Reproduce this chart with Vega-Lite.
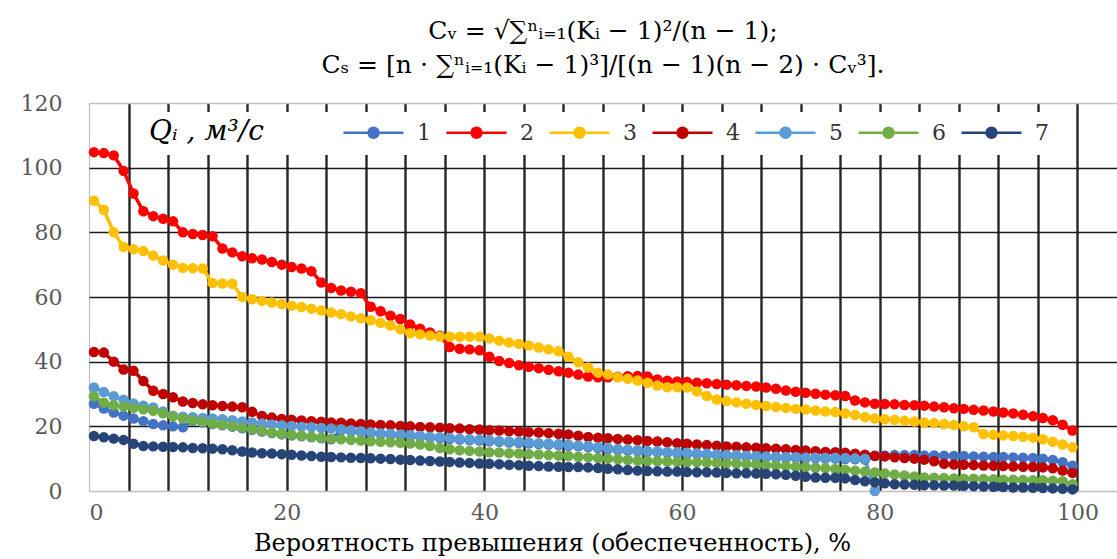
{
"$schema": "https://vega.github.io/schema/vega-lite/v6.json",
"width": 1028, "height": 388,
"autosize": {"type": "none"},
"padding": {"left": 89, "top": 103, "right": 0, "bottom": 68},
"background": "white",
"config": {"view": {"stroke": null}},
"title": {"text": ["Cᵥ = √∑ⁿᵢ₌₁(Kᵢ − 1)²/(n − 1);", "Cₛ = [n ⋅ ∑ⁿᵢ₌₁(Kᵢ − 1)³]/[(n − 1)(n − 2) ⋅ Cᵥ³]."], "font": "DejaVu Serif", "fontSize": 25, "fontWeight": "normal", "color": "#000", "anchor": "middle", "frame": "group", "lineHeight": 34, "offset": 14},
"data": {"values": [
{"s":"1","x":0.5,"y":27},{"s":"1","x":1.5,"y":25.5},{"s":"1","x":2.5,"y":24.3},{"s":"1","x":3.5,"y":23.3},{"s":"1","x":4.5,"y":22.4},{"s":"1","x":5.5,"y":21.6},{"s":"1","x":6.5,"y":20.7},{"s":"1","x":7.5,"y":20.3},{"s":"1","x":8.5,"y":20},{"s":"1","x":9.5,"y":19.7},
{"s":"1","x":10.5,"y":21.7},{"s":"1","x":11.5,"y":21.2},{"s":"1","x":12.5,"y":20.7},{"s":"1","x":13.5,"y":20.3},{"s":"1","x":14.5,"y":19.9},{"s":"1","x":15.5,"y":19.4},{"s":"1","x":16.5,"y":18.9},{"s":"1","x":17.5,"y":18.4},{"s":"1","x":18.5,"y":17.9},{"s":"1","x":19.5,"y":17.5},
{"s":"1","x":20.5,"y":17.2},{"s":"1","x":21.5,"y":16.9},{"s":"1","x":22.5,"y":16.6},{"s":"1","x":23.5,"y":16.3},{"s":"1","x":24.5,"y":16.0},{"s":"1","x":25.5,"y":18.8},{"s":"1","x":26.5,"y":18.5},{"s":"1","x":27.5,"y":18.2},{"s":"1","x":28.5,"y":17.9},{"s":"1","x":29.5,"y":17.6},
{"s":"1","x":30.5,"y":17.4},{"s":"1","x":31.5,"y":17.2},{"s":"1","x":32.5,"y":17},{"s":"1","x":33.5,"y":16.8},{"s":"1","x":34.5,"y":16.5},{"s":"1","x":35.5,"y":16.3},{"s":"1","x":36.5,"y":16.1},{"s":"1","x":37.5,"y":15.9},{"s":"1","x":38.5,"y":15.7},{"s":"1","x":39.5,"y":15.6},
{"s":"1","x":40.5,"y":15.4},{"s":"1","x":41.5,"y":15.2},{"s":"1","x":42.5,"y":15},{"s":"1","x":43.5,"y":14.9},{"s":"1","x":44.5,"y":14.7},{"s":"1","x":45.5,"y":14.5},{"s":"1","x":46.5,"y":14.4},{"s":"1","x":47.5,"y":14.2},{"s":"1","x":48.5,"y":14},{"s":"1","x":49.5,"y":13.8},
{"s":"1","x":50.5,"y":13.6},{"s":"1","x":51.5,"y":13.3},{"s":"1","x":52.5,"y":13},{"s":"1","x":53.5,"y":12.7},{"s":"1","x":54.5,"y":12.5},{"s":"1","x":55.5,"y":12.3},{"s":"1","x":56.5,"y":12.1},{"s":"1","x":57.5,"y":12},{"s":"1","x":58.5,"y":11.8},{"s":"1","x":59.5,"y":11.7},
{"s":"1","x":60.5,"y":11.5},{"s":"1","x":61.5,"y":11.4},{"s":"1","x":62.5,"y":11.2},{"s":"1","x":63.5,"y":11.1},{"s":"1","x":64.5,"y":10.9},{"s":"1","x":65.5,"y":10.8},{"s":"1","x":66.5,"y":10.6},{"s":"1","x":67.5,"y":10.5},{"s":"1","x":68.5,"y":10.4},{"s":"1","x":69.5,"y":10.3},
{"s":"1","x":70.5,"y":10.2},{"s":"1","x":71.5,"y":10.2},{"s":"1","x":72.5,"y":10.1},{"s":"1","x":73.5,"y":10.1},{"s":"1","x":74.5,"y":10},{"s":"1","x":75.5,"y":10},{"s":"1","x":76.5,"y":9.9},{"s":"1","x":77.5,"y":9.8},{"s":"1","x":78.5,"y":9.7},{"s":"1","x":79.5,"y":10.8},
{"s":"1","x":80.5,"y":11},{"s":"1","x":81.5,"y":11.1},{"s":"1","x":82.5,"y":11.1},{"s":"1","x":83.5,"y":11.1},{"s":"1","x":84.5,"y":11},{"s":"1","x":85.5,"y":11},{"s":"1","x":86.5,"y":10.9},{"s":"1","x":87.5,"y":10.8},{"s":"1","x":88.5,"y":10.8},{"s":"1","x":89.5,"y":10.7},
{"s":"1","x":90.5,"y":10.6},{"s":"1","x":91.5,"y":10.5},{"s":"1","x":92.5,"y":10.5},{"s":"1","x":93.5,"y":10.4},{"s":"1","x":94.5,"y":10.3},{"s":"1","x":95.5,"y":10.2},{"s":"1","x":96.5,"y":10},{"s":"1","x":97.5,"y":9.6},{"s":"1","x":98.5,"y":8.9},{"s":"1","x":99.5,"y":7.8},

{"s":"2","x":0.5,"y":104.8},{"s":"2","x":1.5,"y":104.5},{"s":"2","x":2.5,"y":103.8},{"s":"2","x":3.5,"y":99},{"s":"2","x":4.5,"y":92},{"s":"2","x":5.5,"y":86.5},{"s":"2","x":6.5,"y":85},{"s":"2","x":7.5,"y":84.2},{"s":"2","x":8.5,"y":83.4},{"s":"2","x":9.5,"y":80},
{"s":"2","x":10.5,"y":79.5},{"s":"2","x":11.5,"y":79.2},{"s":"2","x":12.5,"y":78.8},{"s":"2","x":13.5,"y":75},{"s":"2","x":14.5,"y":73.8},{"s":"2","x":15.5,"y":72.6},{"s":"2","x":16.5,"y":72},{"s":"2","x":17.5,"y":71.6},{"s":"2","x":18.5,"y":70.8},{"s":"2","x":19.5,"y":70},
{"s":"2","x":20.5,"y":69.3},{"s":"2","x":21.5,"y":68.8},{"s":"2","x":22.5,"y":68},{"s":"2","x":23.5,"y":64.5},{"s":"2","x":24.5,"y":62.8},{"s":"2","x":25.5,"y":62},{"s":"2","x":26.5,"y":61.6},{"s":"2","x":27.5,"y":61.2},{"s":"2","x":28.5,"y":57},{"s":"2","x":29.5,"y":55.6},
{"s":"2","x":30.5,"y":54.2},{"s":"2","x":31.5,"y":53.2},{"s":"2","x":32.5,"y":51.5},{"s":"2","x":33.5,"y":50.2},{"s":"2","x":34.5,"y":49},{"s":"2","x":35.5,"y":48},{"s":"2","x":36.5,"y":44.5},{"s":"2","x":37.5,"y":44},{"s":"2","x":38.5,"y":43.8},{"s":"2","x":39.5,"y":43.5},
{"s":"2","x":40.5,"y":41.5},{"s":"2","x":41.5,"y":40.2},{"s":"2","x":42.5,"y":39.6},{"s":"2","x":43.5,"y":38.9},{"s":"2","x":44.5,"y":38.4},{"s":"2","x":45.5,"y":38},{"s":"2","x":46.5,"y":37.5},{"s":"2","x":47.5,"y":37},{"s":"2","x":48.5,"y":36.6},{"s":"2","x":49.5,"y":36},
{"s":"2","x":50.5,"y":35.4},{"s":"2","x":51.5,"y":35.2},{"s":"2","x":52.5,"y":35.2},{"s":"2","x":53.5,"y":35.3},{"s":"2","x":54.5,"y":35.5},{"s":"2","x":55.5,"y":35.6},{"s":"2","x":56.5,"y":35.4},{"s":"2","x":57.5,"y":34.5},{"s":"2","x":58.5,"y":34.1},{"s":"2","x":59.5,"y":33.9},
{"s":"2","x":60.5,"y":33.7},{"s":"2","x":61.5,"y":33.5},{"s":"2","x":62.5,"y":33.3},{"s":"2","x":63.5,"y":33.1},{"s":"2","x":64.5,"y":32.9},{"s":"2","x":65.5,"y":32.7},{"s":"2","x":66.5,"y":32.5},{"s":"2","x":67.5,"y":32.3},{"s":"2","x":68.5,"y":32},{"s":"2","x":69.5,"y":31.6},
{"s":"2","x":70.5,"y":31.1},{"s":"2","x":71.5,"y":30.7},{"s":"2","x":72.5,"y":30.4},{"s":"2","x":73.5,"y":30.1},{"s":"2","x":74.5,"y":29.8},{"s":"2","x":75.5,"y":29.6},{"s":"2","x":76.5,"y":29.4},{"s":"2","x":77.5,"y":28},{"s":"2","x":78.5,"y":27.4},{"s":"2","x":79.5,"y":27},
{"s":"2","x":80.5,"y":26.9},{"s":"2","x":81.5,"y":26.8},{"s":"2","x":82.5,"y":26.6},{"s":"2","x":83.5,"y":26.5},{"s":"2","x":84.5,"y":26.4},{"s":"2","x":85.5,"y":26.1},{"s":"2","x":86.5,"y":25.9},{"s":"2","x":87.5,"y":25.6},{"s":"2","x":88.5,"y":25.4},{"s":"2","x":89.5,"y":25.1},
{"s":"2","x":90.5,"y":24.9},{"s":"2","x":91.5,"y":24.6},{"s":"2","x":92.5,"y":24.3},{"s":"2","x":93.5,"y":24},{"s":"2","x":94.5,"y":23.6},{"s":"2","x":95.5,"y":23.1},{"s":"2","x":96.5,"y":22.6},{"s":"2","x":97.5,"y":21.9},{"s":"2","x":98.5,"y":20.5},{"s":"2","x":99.5,"y":18.7},

{"s":"3","x":0.5,"y":89.8},{"s":"3","x":1.5,"y":87},{"s":"3","x":2.5,"y":80},{"s":"3","x":3.5,"y":75.5},{"s":"3","x":4.5,"y":74.8},{"s":"3","x":5.5,"y":74.2},{"s":"3","x":6.5,"y":72.8},{"s":"3","x":7.5,"y":71.3},{"s":"3","x":8.5,"y":70},{"s":"3","x":9.5,"y":69},
{"s":"3","x":10.5,"y":68.9},{"s":"3","x":11.5,"y":68.8},{"s":"3","x":12.5,"y":64.3},{"s":"3","x":13.5,"y":64.2},{"s":"3","x":14.5,"y":64.1},{"s":"3","x":15.5,"y":60},{"s":"3","x":16.5,"y":59.3},{"s":"3","x":17.5,"y":58.8},{"s":"3","x":18.5,"y":58.3},{"s":"3","x":19.5,"y":57.8},
{"s":"3","x":20.5,"y":57.3},{"s":"3","x":21.5,"y":56.9},{"s":"3","x":22.5,"y":56.4},{"s":"3","x":23.5,"y":55.8},{"s":"3","x":24.5,"y":55.2},{"s":"3","x":25.5,"y":54.7},{"s":"3","x":26.5,"y":54},{"s":"3","x":27.5,"y":53.4},{"s":"3","x":28.5,"y":52.8},{"s":"3","x":29.5,"y":52},
{"s":"3","x":30.5,"y":51.2},{"s":"3","x":31.5,"y":50},{"s":"3","x":32.5,"y":48.8},{"s":"3","x":33.5,"y":48.5},{"s":"3","x":34.5,"y":48.1},{"s":"3","x":35.5,"y":47.8},{"s":"3","x":36.5,"y":47.7},{"s":"3","x":37.5,"y":47.7},{"s":"3","x":38.5,"y":47.7},{"s":"3","x":39.5,"y":47.7},
{"s":"3","x":40.5,"y":47.2},{"s":"3","x":41.5,"y":46.5},{"s":"3","x":42.5,"y":45.9},{"s":"3","x":43.5,"y":45.5},{"s":"3","x":44.5,"y":45},{"s":"3","x":45.5,"y":44.4},{"s":"3","x":46.5,"y":43.8},{"s":"3","x":47.5,"y":43.2},{"s":"3","x":48.5,"y":41.5},{"s":"3","x":49.5,"y":39.8},
{"s":"3","x":50.5,"y":38.2},{"s":"3","x":51.5,"y":36.6},{"s":"3","x":52.5,"y":36},{"s":"3","x":53.5,"y":35.2},{"s":"3","x":54.5,"y":34.7},{"s":"3","x":55.5,"y":34.2},{"s":"3","x":56.5,"y":33.5},{"s":"3","x":57.5,"y":32.6},{"s":"3","x":58.5,"y":32.1},{"s":"3","x":59.5,"y":32.1},
{"s":"3","x":60.5,"y":32},{"s":"3","x":61.5,"y":30.8},{"s":"3","x":62.5,"y":29.4},{"s":"3","x":63.5,"y":28.3},{"s":"3","x":64.5,"y":27.8},{"s":"3","x":65.5,"y":27.4},{"s":"3","x":66.5,"y":27},{"s":"3","x":67.5,"y":26.6},{"s":"3","x":68.5,"y":26.3},{"s":"3","x":69.5,"y":26},
{"s":"3","x":70.5,"y":25.7},{"s":"3","x":71.5,"y":25.4},{"s":"3","x":72.5,"y":25.2},{"s":"3","x":73.5,"y":24.9},{"s":"3","x":74.5,"y":24.6},{"s":"3","x":75.5,"y":24.4},{"s":"3","x":76.5,"y":24},{"s":"3","x":77.5,"y":23.5},{"s":"3","x":78.5,"y":22.9},{"s":"3","x":79.5,"y":22.4},
{"s":"3","x":80.5,"y":22.2},{"s":"3","x":81.5,"y":22},{"s":"3","x":82.5,"y":21.7},{"s":"3","x":83.5,"y":21.5},{"s":"3","x":84.5,"y":21.2},{"s":"3","x":85.5,"y":21},{"s":"3","x":86.5,"y":20.7},{"s":"3","x":87.5,"y":20.4},{"s":"3","x":88.5,"y":20},{"s":"3","x":89.5,"y":19.7},
{"s":"3","x":90.5,"y":17.6},{"s":"3","x":91.5,"y":17.4},{"s":"3","x":92.5,"y":17.2},{"s":"3","x":93.5,"y":17},{"s":"3","x":94.5,"y":16.8},{"s":"3","x":95.5,"y":16.5},{"s":"3","x":96.5,"y":16},{"s":"3","x":97.5,"y":15.2},{"s":"3","x":98.5,"y":14.4},{"s":"3","x":99.5,"y":13.5},

{"s":"4","x":0.5,"y":43},{"s":"4","x":1.5,"y":42.8},{"s":"4","x":2.5,"y":40},{"s":"4","x":3.5,"y":37.6},{"s":"4","x":4.5,"y":37.2},{"s":"4","x":5.5,"y":34},{"s":"4","x":6.5,"y":31},{"s":"4","x":7.5,"y":30},{"s":"4","x":8.5,"y":29},{"s":"4","x":9.5,"y":27.7},
{"s":"4","x":10.5,"y":27.2},{"s":"4","x":11.5,"y":26.8},{"s":"4","x":12.5,"y":26.5},{"s":"4","x":13.5,"y":26.3},{"s":"4","x":14.5,"y":26.1},{"s":"4","x":15.5,"y":25.9},{"s":"4","x":16.5,"y":24.5},{"s":"4","x":17.5,"y":23.2},{"s":"4","x":18.5,"y":22.7},{"s":"4","x":19.5,"y":22.3},
{"s":"4","x":20.5,"y":22},{"s":"4","x":21.5,"y":21.8},{"s":"4","x":22.5,"y":21.6},{"s":"4","x":23.5,"y":21.4},{"s":"4","x":24.5,"y":21.2},{"s":"4","x":25.5,"y":21.1},{"s":"4","x":26.5,"y":20.9},{"s":"4","x":27.5,"y":20.7},{"s":"4","x":28.5,"y":20.6},{"s":"4","x":29.5,"y":20.4},
{"s":"4","x":30.5,"y":20.3},{"s":"4","x":31.5,"y":20.1},{"s":"4","x":32.5,"y":20},{"s":"4","x":33.5,"y":19.8},{"s":"4","x":34.5,"y":19.7},{"s":"4","x":35.5,"y":19.6},{"s":"4","x":36.5,"y":19.4},{"s":"4","x":37.5,"y":19.3},{"s":"4","x":38.5,"y":19.1},{"s":"4","x":39.5,"y":19},
{"s":"4","x":40.5,"y":18.8},{"s":"4","x":41.5,"y":18.7},{"s":"4","x":42.5,"y":18.5},{"s":"4","x":43.5,"y":18.4},{"s":"4","x":44.5,"y":18.2},{"s":"4","x":45.5,"y":18.1},{"s":"4","x":46.5,"y":17.9},{"s":"4","x":47.5,"y":17.7},{"s":"4","x":48.5,"y":17.5},{"s":"4","x":49.5,"y":17.1},
{"s":"4","x":50.5,"y":16.7},{"s":"4","x":51.5,"y":16.5},{"s":"4","x":52.5,"y":16.3},{"s":"4","x":53.5,"y":16.1},{"s":"4","x":54.5,"y":15.9},{"s":"4","x":55.5,"y":15.7},{"s":"4","x":56.5,"y":15.5},{"s":"4","x":57.5,"y":15.3},{"s":"4","x":58.5,"y":15.1},{"s":"4","x":59.5,"y":14.8},
{"s":"4","x":60.5,"y":14.6},{"s":"4","x":61.5,"y":14.4},{"s":"4","x":62.5,"y":14.2},{"s":"4","x":63.5,"y":14},{"s":"4","x":64.5,"y":13.8},{"s":"4","x":65.5,"y":13.7},{"s":"4","x":66.5,"y":13.5},{"s":"4","x":67.5,"y":13.4},{"s":"4","x":68.5,"y":13.2},{"s":"4","x":69.5,"y":13.1},
{"s":"4","x":70.5,"y":12.9},{"s":"4","x":71.5,"y":12.7},{"s":"4","x":72.5,"y":12.5},{"s":"4","x":73.5,"y":12.3},{"s":"4","x":74.5,"y":12.1},{"s":"4","x":75.5,"y":12},{"s":"4","x":76.5,"y":11.8},{"s":"4","x":77.5,"y":11.5},{"s":"4","x":78.5,"y":11.2},{"s":"4","x":79.5,"y":10.9},
{"s":"4","x":80.5,"y":10.7},{"s":"4","x":81.5,"y":10.4},{"s":"4","x":82.5,"y":10.2},{"s":"4","x":83.5,"y":10},{"s":"4","x":84.5,"y":9.7},{"s":"4","x":85.5,"y":9.2},{"s":"4","x":86.5,"y":8.4},{"s":"4","x":87.5,"y":8.2},{"s":"4","x":88.5,"y":8.1},{"s":"4","x":89.5,"y":8},
{"s":"4","x":90.5,"y":7.9},{"s":"4","x":91.5,"y":7.8},{"s":"4","x":92.5,"y":7.7},{"s":"4","x":93.5,"y":7.6},{"s":"4","x":94.5,"y":7.5},{"s":"4","x":95.5,"y":7.4},{"s":"4","x":96.5,"y":7.3},{"s":"4","x":97.5,"y":7},{"s":"4","x":98.5,"y":6.3},{"s":"4","x":99.5,"y":5.6},

{"s":"5","x":0.5,"y":32},{"s":"5","x":1.5,"y":30.6},{"s":"5","x":2.5,"y":29.3},{"s":"5","x":3.5,"y":28.2},{"s":"5","x":4.5,"y":27.1},{"s":"5","x":5.5,"y":26.4},{"s":"5","x":6.5,"y":25.8},{"s":"5","x":7.5,"y":24.6},{"s":"5","x":8.5,"y":23.3},{"s":"5","x":9.5,"y":23},
{"s":"5","x":10.5,"y":22.8},{"s":"5","x":11.5,"y":22.6},{"s":"5","x":12.5,"y":22.4},{"s":"5","x":13.5,"y":22.2},{"s":"5","x":14.5,"y":21.9},{"s":"5","x":15.5,"y":21.5},{"s":"5","x":16.5,"y":21.2},{"s":"5","x":17.5,"y":20.9},{"s":"5","x":18.5,"y":20.6},{"s":"5","x":19.5,"y":20.3},
{"s":"5","x":20.5,"y":20.1},{"s":"5","x":21.5,"y":19.9},{"s":"5","x":22.5,"y":19.7},{"s":"5","x":23.5,"y":19.5},{"s":"5","x":24.5,"y":19.3},{"s":"5","x":25.5,"y":19.1},{"s":"5","x":26.5,"y":18.8},{"s":"5","x":27.5,"y":18.5},{"s":"5","x":28.5,"y":18.2},{"s":"5","x":29.5,"y":17.9},
{"s":"5","x":30.5,"y":17.7},{"s":"5","x":31.5,"y":17.5},{"s":"5","x":32.5,"y":17.3},{"s":"5","x":33.5,"y":17.1},{"s":"5","x":34.5,"y":16.8},{"s":"5","x":35.5,"y":16.6},{"s":"5","x":36.5,"y":16.4},{"s":"5","x":37.5,"y":16.2},{"s":"5","x":38.5,"y":16},{"s":"5","x":39.5,"y":15.9},
{"s":"5","x":40.5,"y":15.7},{"s":"5","x":41.5,"y":15.5},{"s":"5","x":42.5,"y":15.3},{"s":"5","x":43.5,"y":15.2},{"s":"5","x":44.5,"y":15},{"s":"5","x":45.5,"y":14.8},{"s":"5","x":46.5,"y":14.7},{"s":"5","x":47.5,"y":14.5},{"s":"5","x":48.5,"y":14.3},{"s":"5","x":49.5,"y":14.1},
{"s":"5","x":50.5,"y":13.9},{"s":"5","x":51.5,"y":13.6},{"s":"5","x":52.5,"y":13.3},{"s":"5","x":53.5,"y":13},{"s":"5","x":54.5,"y":12.8},{"s":"5","x":55.5,"y":12.6},{"s":"5","x":56.5,"y":12.4},{"s":"5","x":57.5,"y":12.3},{"s":"5","x":58.5,"y":12.1},{"s":"5","x":59.5,"y":12},
{"s":"5","x":60.5,"y":11.8},{"s":"5","x":61.5,"y":11.7},{"s":"5","x":62.5,"y":11.5},{"s":"5","x":63.5,"y":11.4},{"s":"5","x":64.5,"y":11.2},{"s":"5","x":65.5,"y":11.1},{"s":"5","x":66.5,"y":10.9},{"s":"5","x":67.5,"y":10.8},{"s":"5","x":68.5,"y":10.7},{"s":"5","x":69.5,"y":10.6},
{"s":"5","x":70.5,"y":10.5},{"s":"5","x":71.5,"y":10.5},{"s":"5","x":72.5,"y":10.4},{"s":"5","x":73.5,"y":10.4},{"s":"5","x":74.5,"y":10.3},{"s":"5","x":75.5,"y":10.3},{"s":"5","x":76.5,"y":10.2},{"s":"5","x":77.5,"y":10.1},{"s":"5","x":78.5,"y":10},{"s":"5","x":79.5,"y":0},

{"s":"6","x":0.5,"y":29.3},{"s":"6","x":1.5,"y":27.3},{"s":"6","x":2.5,"y":26.5},{"s":"6","x":3.5,"y":26.1},{"s":"6","x":4.5,"y":25.7},{"s":"6","x":5.5,"y":25.3},{"s":"6","x":6.5,"y":24.8},{"s":"6","x":7.5,"y":24},{"s":"6","x":8.5,"y":23.1},{"s":"6","x":9.5,"y":22.4},
{"s":"6","x":10.5,"y":21.9},{"s":"6","x":11.5,"y":21.4},{"s":"6","x":12.5,"y":20.9},{"s":"6","x":13.5,"y":20.5},{"s":"6","x":14.5,"y":20.1},{"s":"6","x":15.5,"y":19.6},{"s":"6","x":16.5,"y":19.1},{"s":"6","x":17.5,"y":18.6},{"s":"6","x":18.5,"y":18.1},{"s":"6","x":19.5,"y":17.7},
{"s":"6","x":20.5,"y":17.4},{"s":"6","x":21.5,"y":17.1},{"s":"6","x":22.5,"y":16.8},{"s":"6","x":23.5,"y":16.5},{"s":"6","x":24.5,"y":16.2},{"s":"6","x":25.5,"y":16},{"s":"6","x":26.5,"y":15.8},{"s":"6","x":27.5,"y":15.6},{"s":"6","x":28.5,"y":15.4},{"s":"6","x":29.5,"y":15.2},
{"s":"6","x":30.5,"y":15.1},{"s":"6","x":31.5,"y":14.9},{"s":"6","x":32.5,"y":14.7},{"s":"6","x":33.5,"y":14.4},{"s":"6","x":34.5,"y":13.9},{"s":"6","x":35.5,"y":13.3},{"s":"6","x":36.5,"y":12.9},{"s":"6","x":37.5,"y":12.6},{"s":"6","x":38.5,"y":12.4},{"s":"6","x":39.5,"y":12.2},
{"s":"6","x":40.5,"y":12},{"s":"6","x":41.5,"y":11.9},{"s":"6","x":42.5,"y":11.7},{"s":"6","x":43.5,"y":11.6},{"s":"6","x":44.5,"y":11.4},{"s":"6","x":45.5,"y":11.3},{"s":"6","x":46.5,"y":11.1},{"s":"6","x":47.5,"y":11},{"s":"6","x":48.5,"y":10.8},{"s":"6","x":49.5,"y":10.6},
{"s":"6","x":50.5,"y":10.4},{"s":"6","x":51.5,"y":10.2},{"s":"6","x":52.5,"y":10},{"s":"6","x":53.5,"y":9.8},{"s":"6","x":54.5,"y":9.6},{"s":"6","x":55.5,"y":9.4},{"s":"6","x":56.5,"y":9.3},{"s":"6","x":57.5,"y":9.2},{"s":"6","x":58.5,"y":9.1},{"s":"6","x":59.5,"y":9},
{"s":"6","x":60.5,"y":8.9},{"s":"6","x":61.5,"y":8.9},{"s":"6","x":62.5,"y":8.8},{"s":"6","x":63.5,"y":8.7},{"s":"6","x":64.5,"y":8.6},{"s":"6","x":65.5,"y":8.5},{"s":"6","x":66.5,"y":8.3},{"s":"6","x":67.5,"y":8.2},{"s":"6","x":68.5,"y":8},{"s":"6","x":69.5,"y":7.9},
{"s":"6","x":70.5,"y":7.7},{"s":"6","x":71.5,"y":7.5},{"s":"6","x":72.5,"y":7.4},{"s":"6","x":73.5,"y":7.2},{"s":"6","x":74.5,"y":7},{"s":"6","x":75.5,"y":6.8},{"s":"6","x":76.5,"y":6.6},{"s":"6","x":77.5,"y":6.3},{"s":"6","x":78.5,"y":6},{"s":"6","x":79.5,"y":5.7},
{"s":"6","x":80.5,"y":5.4},{"s":"6","x":81.5,"y":5.1},{"s":"6","x":82.5,"y":4.8},{"s":"6","x":83.5,"y":4.5},{"s":"6","x":84.5,"y":4.2},{"s":"6","x":85.5,"y":4.1},{"s":"6","x":86.5,"y":4},{"s":"6","x":87.5,"y":3.9},{"s":"6","x":88.5,"y":3.8},{"s":"6","x":89.5,"y":3.8},
{"s":"6","x":90.5,"y":3.7},{"s":"6","x":91.5,"y":3.6},{"s":"6","x":92.5,"y":3.5},{"s":"6","x":93.5,"y":3.5},{"s":"6","x":94.5,"y":3.4},{"s":"6","x":95.5,"y":3.3},{"s":"6","x":96.5,"y":3.3},{"s":"6","x":97.5,"y":3.2},{"s":"6","x":98.5,"y":3},{"s":"6","x":99.5,"y":2.1},

{"s":"7","x":0.5,"y":17},{"s":"7","x":1.5,"y":16.6},{"s":"7","x":2.5,"y":16.2},{"s":"7","x":3.5,"y":15.8},{"s":"7","x":4.5,"y":14.6},{"s":"7","x":5.5,"y":13.9},{"s":"7","x":6.5,"y":13.8},{"s":"7","x":7.5,"y":13.7},{"s":"7","x":8.5,"y":13.6},{"s":"7","x":9.5,"y":13.5},
{"s":"7","x":10.5,"y":13.3},{"s":"7","x":11.5,"y":13.2},{"s":"7","x":12.5,"y":13.1},{"s":"7","x":13.5,"y":12.9},{"s":"7","x":14.5,"y":12.6},{"s":"7","x":15.5,"y":12.2},{"s":"7","x":16.5,"y":11.9},{"s":"7","x":17.5,"y":11.7},{"s":"7","x":18.5,"y":11.6},{"s":"7","x":19.5,"y":11.4},
{"s":"7","x":20.5,"y":11.2},{"s":"7","x":21.5,"y":11},{"s":"7","x":22.5,"y":10.8},{"s":"7","x":23.5,"y":10.6},{"s":"7","x":24.5,"y":10.5},{"s":"7","x":25.5,"y":10.4},{"s":"7","x":26.5,"y":10.3},{"s":"7","x":27.5,"y":10.2},{"s":"7","x":28.5,"y":10.1},{"s":"7","x":29.5,"y":10},
{"s":"7","x":30.5,"y":9.9},{"s":"7","x":31.5,"y":9.7},{"s":"7","x":32.5,"y":9.6},{"s":"7","x":33.5,"y":9.4},{"s":"7","x":34.5,"y":9.3},{"s":"7","x":35.5,"y":9.1},{"s":"7","x":36.5,"y":9},{"s":"7","x":37.5,"y":8.8},{"s":"7","x":38.5,"y":8.7},{"s":"7","x":39.5,"y":8.5},
{"s":"7","x":40.5,"y":8.4},{"s":"7","x":41.5,"y":8.3},{"s":"7","x":42.5,"y":8.1},{"s":"7","x":43.5,"y":8},{"s":"7","x":44.5,"y":7.8},{"s":"7","x":45.5,"y":7.7},{"s":"7","x":46.5,"y":7.6},{"s":"7","x":47.5,"y":7.5},{"s":"7","x":48.5,"y":7.4},{"s":"7","x":49.5,"y":7.4},
{"s":"7","x":50.5,"y":7.3},{"s":"7","x":51.5,"y":7.1},{"s":"7","x":52.5,"y":6.9},{"s":"7","x":53.5,"y":6.7},{"s":"7","x":54.5,"y":6.5},{"s":"7","x":55.5,"y":6.3},{"s":"7","x":56.5,"y":6.2},{"s":"7","x":57.5,"y":6.1},{"s":"7","x":58.5,"y":6},{"s":"7","x":59.5,"y":6},
{"s":"7","x":60.5,"y":5.9},{"s":"7","x":61.5,"y":5.8},{"s":"7","x":62.5,"y":5.8},{"s":"7","x":63.5,"y":5.7},{"s":"7","x":64.5,"y":5.6},{"s":"7","x":65.5,"y":5.5},{"s":"7","x":66.5,"y":5.5},{"s":"7","x":67.5,"y":5.4},{"s":"7","x":68.5,"y":5.3},{"s":"7","x":69.5,"y":5.2},
{"s":"7","x":70.5,"y":5},{"s":"7","x":71.5,"y":4.7},{"s":"7","x":72.5,"y":4.4},{"s":"7","x":73.5,"y":4.2},{"s":"7","x":74.5,"y":4.1},{"s":"7","x":75.5,"y":4.1},{"s":"7","x":76.5,"y":3.9},{"s":"7","x":77.5,"y":3.4},{"s":"7","x":78.5,"y":3},{"s":"7","x":79.5,"y":2.7},
{"s":"7","x":80.5,"y":2.4},{"s":"7","x":81.5,"y":2.1},{"s":"7","x":82.5,"y":2},{"s":"7","x":83.5,"y":1.9},{"s":"7","x":84.5,"y":1.8},{"s":"7","x":85.5,"y":1.8},{"s":"7","x":86.5,"y":1.7},{"s":"7","x":87.5,"y":1.7},{"s":"7","x":88.5,"y":1.6},{"s":"7","x":89.5,"y":1.5},
{"s":"7","x":90.5,"y":1.4},{"s":"7","x":91.5,"y":1.3},{"s":"7","x":92.5,"y":1.2},{"s":"7","x":93.5,"y":1.1},{"s":"7","x":94.5,"y":1.1},{"s":"7","x":95.5,"y":1},{"s":"7","x":96.5,"y":0.9},{"s":"7","x":97.5,"y":0.8},{"s":"7","x":98.5,"y":0.7},{"s":"7","x":99.5,"y":0.5}
]},
"encoding": {
  "x": {"field": "x", "type": "quantitative", "scale": {"domain": [0, 104], "nice": false, "zero": false},
    "axis": {"values": [0,4,8,12,16,20,24,28,32,36,40,44,48,52,56,60,64,68,72,76,80,84,88,92,96,100],
      "labelExpr": "datum.value % 20 === 0 ? datum.label : ''",
      "grid": true,
      "gridColor": {"condition": {"test": "datum.value === 0", "value": "#bfbfbf"}, "value": "#262626"},
      "gridWidth": {"condition": {"test": "datum.value === 0", "value": 1.2}, "value": 2.4},
      "domain": false, "ticks": false,
      "labelFont": "DejaVu Serif", "labelFontSize": 22, "labelColor": "#595959", "labelPadding": 11,
      "title": "Вероятность превышения (обеспеченность), %",
      "titleFont": "DejaVu Serif", "titleFontSize": 24, "titleFontWeight": "normal", "titleColor": "#000", "titlePadding": 8, "titleX": 463}},
  "y": {"field": "y", "type": "quantitative", "scale": {"domain": [0, 120], "nice": false},
    "axis": {"values": [0,20,40,60,80,100,120],
      "grid": true,
      "gridColor": {"condition": {"test": "datum.value === 0 || datum.value === 120", "value": "#bfbfbf"}, "value": "#1a1a1a"},
      "gridWidth": 1.6,
      "domain": false, "ticks": false,
      "labelFont": "DejaVu Serif", "labelFontSize": 22, "labelColor": "#595959", "labelPadding": 27,
      "title": null}},
  "color": {"field": "s", "type": "nominal",
    "scale": {"domain": ["1","2","3","4","5","6","7"], "range": ["#4472C4","#FF0000","#FFC000","#C00000","#5B9BD5","#70AD47","#264478"]},
    "legend": {"orient": "none", "legendX": 51, "legendY": 9, "direction": "horizontal",
      "title": "Qᵢ ,  м³/с", "titleOrient": "left", "titleAnchor": "middle", "titleBaseline": "middle", "titleFont": "DejaVu Serif", "titleFontSize": 28, "titleFontWeight": "normal", "titleFontStyle": "italic", "titleColor": "#000", "titlePadding": 89,
      "fillColor": "white", "padding": 9,
      "symbolType": "M-3,0H3M0.5,0A0.5,0.5,0,1,1,-0.5,0A0.5,0.5,0,1,1,0.5,0Z",
      "symbolSize": 400, "symbolStrokeWidth": 2.5, "symbolOpacity": 1,
      "labelFont": "DejaVu Serif", "labelFontSize": 22, "labelColor": "#333", "labelOffset": 32, "columnPadding": 10,
      "encode": {"symbols": {"update": {"fill": {"scale": "color", "field": "value"}, "stroke": {"scale": "color", "field": "value"}}}}}}
},
"layer": [
  {"mark": {"type": "line", "strokeWidth": 3.5}},
  {"mark": {"type": "point", "filled": true, "size": 110, "opacity": 1}}
]
}
